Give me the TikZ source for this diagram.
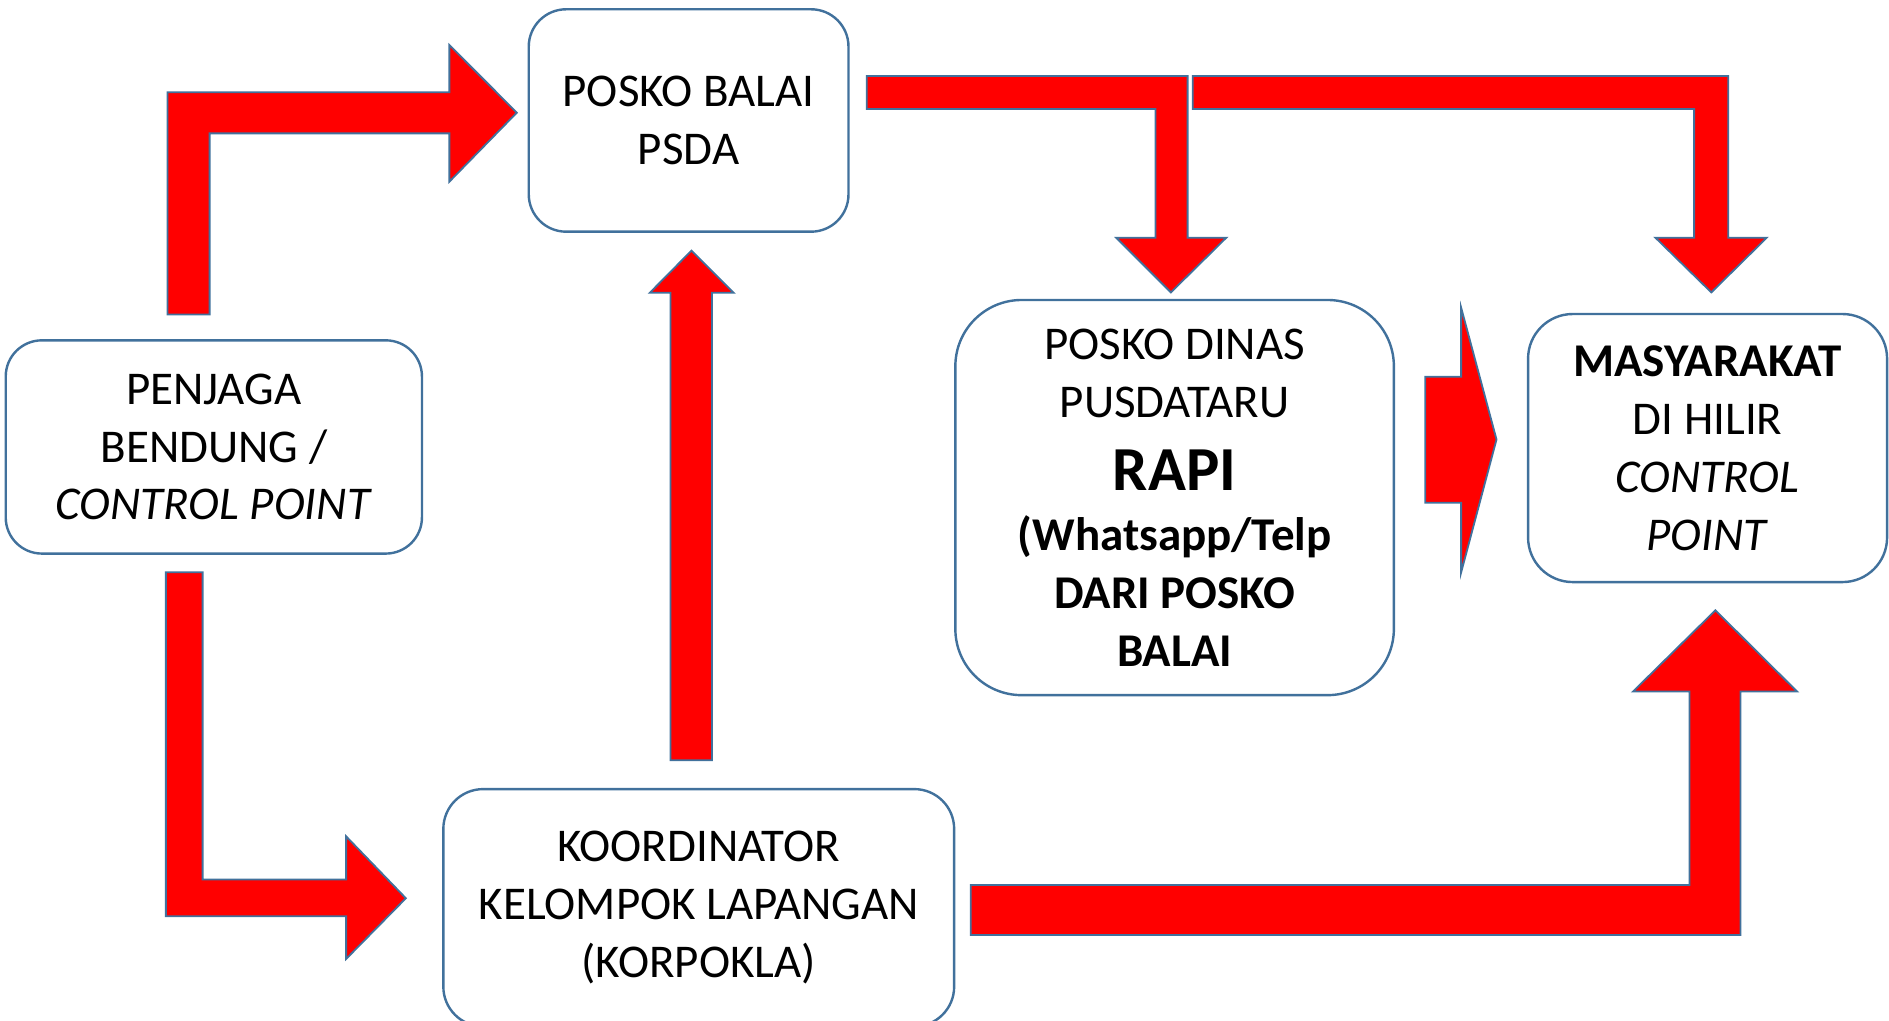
\documentclass[tikz,border=0pt]{standalone}
\usepackage{fontspec}
\setmainfont{Carlito}
\definecolor{edgeblue}{RGB}{65,113,156}
\definecolor{arrowred}{RGB}{255,0,0}
\begin{document}
\begin{tikzpicture}[x=1pt,y=-1pt,
  box/.style={draw=edgeblue, line width=2pt, fill=white, align=center,
    inner sep=0pt, font=\fontsize{39}{48}\selectfont},
  blockarrow/.style={fill=arrowred, draw=edgeblue, line width=1.5pt, line join=miter}]
\useasboundingbox (0,0) rectangle (1568,847);
\clip (0,0) rectangle (1568,847);

% boxes
\node[box, minimum width=265.4pt, minimum height=184.6pt, rounded corners=31pt] (psda) at (571.6,100)
  {POSKO BALAI\\PSDA};
\node[box, minimum width=345.5pt, minimum height=177pt, rounded corners=30pt] (penjaga) at (177.5,371)
  {PENJAGA\\BENDUNG /\\\textit{CONTROL POINT}};
\node[box, minimum width=364pt, minimum height=328pt, rounded corners=55pt] (dinas) at (975,413)
  {POSKO DINAS\\PUSDATARU\\[13pt]{\fontsize{52}{57}\selectfont\bfseries RAPI}\\[2pt]\textbf{(Whatsapp/Telp}\\\textbf{DARI POSKO}\\\textbf{BALAI}};
\node[box, minimum width=298pt, minimum height=222.5pt, rounded corners=37pt] (masy) at (1417.4,371.9)
  {\textbf{MASYARAKAT}\\DI HILIR\\\textit{CONTROL}\\\textit{POINT}};
\node[box, minimum width=424pt, minimum height=197pt, rounded corners=33pt] (korp) at (580,753.5)
  {KOORDINATOR\\KELOMPOK LAPANGAN\\(KORPOKLA)};

% block arrows
% penjaga -> psda
\draw[blockarrow] (139,261) -- (139,76.6) -- (373,76.6) -- (373,37.4) -- (429,93.5)
  -- (373,150.8) -- (373,110.7) -- (174,110.7) -- (174,261) -- cycle;
% korp -> psda
\draw[blockarrow] (556.6,631) -- (556.6,243) -- (539.4,243) -- (574,208) -- (609,243)
  -- (591,243) -- (591,631) -- cycle;
% psda -> dinas
\draw[blockarrow] (719.5,63.1) -- (985.8,63.1) -- (985.8,197.3) -- (1017.9,197.3)
  -- (971.9,242.7) -- (926.5,197.3) -- (959.1,197.3) -- (959.1,90.5) -- (719.5,90.5) -- cycle;
% psda -> masy
\draw[blockarrow] (990,63.1) -- (1434.5,63.1) -- (1434.5,197.3) -- (1466.5,197.3)
  -- (1420.5,242.7) -- (1374.1,197.3) -- (1406.2,197.3) -- (1406.2,90.5) -- (990,90.5) -- cycle;
% dinas -> masy
\draw[blockarrow] (1183,312.7) -- (1212.8,312.7) -- (1212.8,255.2) -- (1242.2,364.8)
  -- (1212.8,475.3) -- (1212.8,417.3) -- (1183,417.3) -- cycle;
% korp -> masy
\draw[blockarrow] (805.8,734.6) -- (1402.4,734.6) -- (1402.4,574) -- (1355.5,574)
  -- (1423.9,506.6) -- (1491.7,574) -- (1444.7,574) -- (1444.7,776.1) -- (805.8,776.1) -- cycle;
% penjaga -> korp
\draw[blockarrow] (137.7,475) -- (168.2,475) -- (168.2,730) -- (287.3,730) -- (287.3,694.2)
  -- (336.9,745.6) -- (287.3,796) -- (287.3,760.5) -- (137.7,760.5) -- cycle;
\end{tikzpicture}
\end{document}
